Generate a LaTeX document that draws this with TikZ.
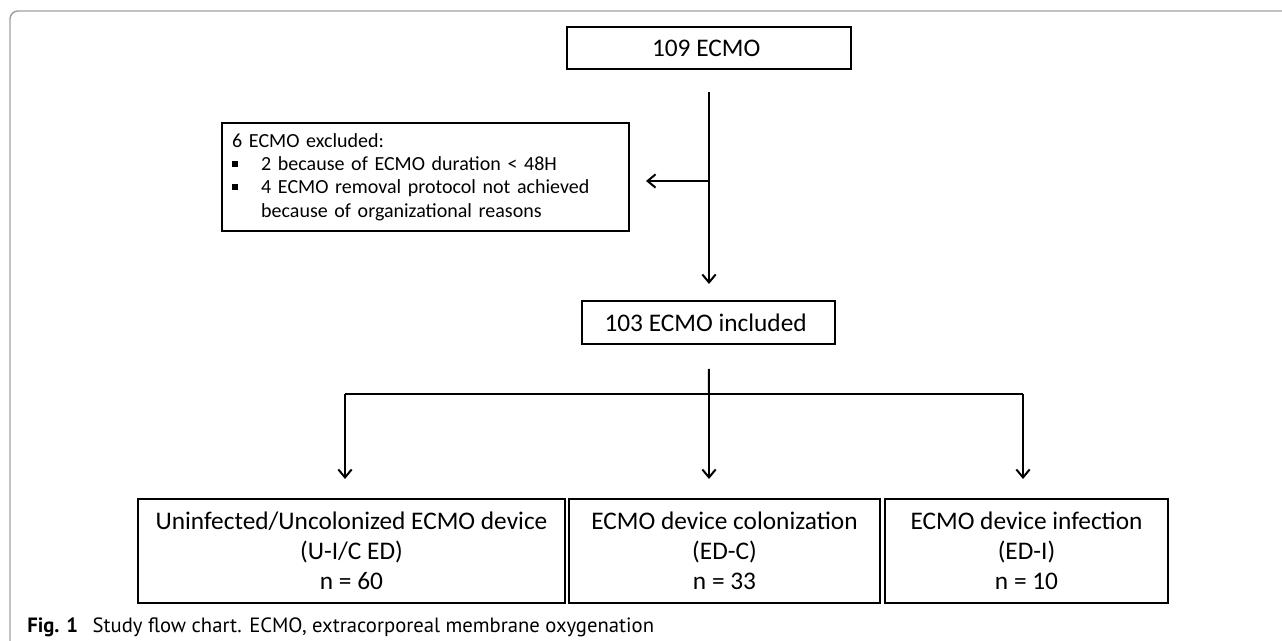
\documentclass[tikz,border=0pt]{standalone}
\usepackage{fontspec}
\setmainfont{Carlito}
\newfontfamily\capfont{PT Sans}
\usetikzlibrary{arrows.meta}

\tikzset{
  box/.style={draw, line width=1.5pt, inner sep=0pt, align=center, font=\fontsize{19}{22.5}\selectfont},
  arr/.style={line width=1.5pt, -{Straight Barb[length=6pt,width=10pt,line width=1.5pt]}},
  link/.style={line width=1.5pt}
}
\newcommand{\sqbul}{\makebox[21.75pt][l]{\rule[0.2em]{0.28em}{0.28em}}}

\begin{document}
\begin{tikzpicture}[x=0.75pt,y=-0.75pt]
  \useasboundingbox (0,0) rectangle (1282,641);
  \draw [gray!75, line width=1.1pt, rounded corners=6pt] (1282,11) -- (10,11) -- (10,641);

  \node [box, minimum width=213pt, minimum height=31.5pt] (total) at (709,48) { 109 ECMO };
  \node [box, minimum width=305.25pt, minimum height=81pt, align=left, text width=290pt,
         font=\fontsize{15}{17.5}\selectfont] (excl) at (425.5,177)
    { 6 ECMO excluded:\\
      \sqbul 2 because of ECMO duration < 48H\\
      \sqbul 4 ECMO removal protocol not achieved\\
      \hspace*{21.75pt}because of organizational reasons };
  \node [box, minimum width=189.75pt, minimum height=32.25pt] (incl) at (708.5,322.5) { 103 ECMO included };

  \node [box, minimum width=320.25pt, minimum height=78pt] (uic) at (351.5,551)
    { Uninfected/Uncolonized ECMO device\\ (U-I/C ED)\\ n = 60 };
  \node [box, minimum width=233.25pt, minimum height=78pt] (edc) at (724.5,551)
    { ECMO device colonization\\ (ED-C)\\ n = 33 };
  \node [box, minimum width=212.25pt, minimum height=78pt] (edi) at (1026.5,551)
    { ECMO device infection\\ (ED-I)\\ n = 10 };

  \coordinate (split) at (709,181);
  \coordinate (fork) at (709,394);
  \coordinate (forkL) at (345,394);
  \coordinate (forkR) at (1023,394);

  \draw [arr, shorten <=16.5pt, shorten >=12pt] (total.south) -- (total.south |- incl.north);
  \draw [arr, shorten >=12pt] (split) -- (excl.east |- split);
  \draw [link, shorten <=18pt] (incl.south) -- (fork);
  \draw [link] (forkL) -- (forkR);
  \draw [arr, shorten >=14.25pt] (forkL) -- (forkL |- uic.north);
  \draw [arr, shorten >=14.25pt] (fork) -- (fork |- edc.north);
  \draw [arr, shorten >=14.25pt] (forkR) -- (forkR |- edi.north);

  \node [anchor=west, inner sep=0pt, font=\capfont\fontsize{15.5}{17}\selectfont] (cap) at (27,627)
    { {\fontsize{15.5}{17}\selectfont\bfseries Fig. 1}\hspace{0.7em}Study flow chart. ECMO, extracorporeal membrane oxygenation };
\end{tikzpicture}
\end{document}
